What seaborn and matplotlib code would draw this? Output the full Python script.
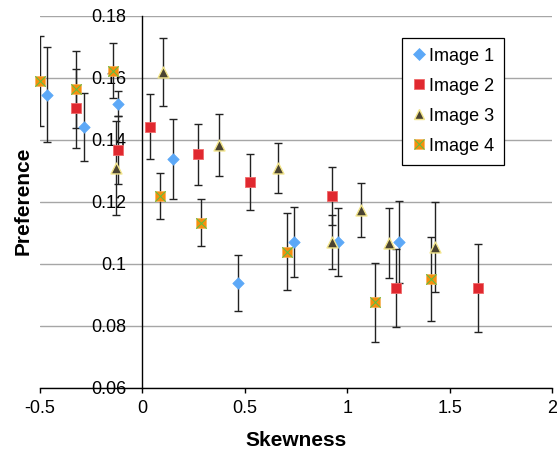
import matplotlib
matplotlib.use('Agg')
import matplotlib.pyplot as plt
import seaborn as sns
import pandas as pd
from matplotlib.lines import Line2D
from matplotlib.legend_handler import HandlerTuple

# ---------------- data ----------------
series_names = ['Image 1', 'Image 2', 'Image 3', 'Image 4']

img1_x = [-0.467, -0.285, -0.119, 0.148, 0.467, 0.740, 0.957, 1.253]
img1_y = [0.1546, 0.1443, 0.1517, 0.1339, 0.0938, 0.1071, 0.1071, 0.1071]
img1_err = [0.0154, 0.0110, 0.0040, 0.0130, 0.0091, 0.0113, 0.0111, 0.0133]

img2_x = [-0.326, -0.119, 0.037, 0.270, 0.525, 0.927, 1.238, 1.640]
img2_y = [0.1502, 0.1368, 0.1443, 0.1354, 0.1265, 0.1220, 0.0923, 0.0923]
img2_err = [0.0128, 0.0109, 0.0105, 0.0098, 0.0091, 0.0094, 0.0125, 0.0142]

img3_x = [-0.130, 0.099, 0.375, 0.664, 0.927, 1.069, 1.204, 1.429]
img3_y = [0.1309, 0.1620, 0.1383, 0.1309, 0.1071, 0.1174, 0.1069, 0.1054]
img3_err = [0.0152, 0.0110, 0.0100, 0.0080, 0.0086, 0.0087, 0.0113, 0.0145]

img4_x = [-0.500, -0.323, -0.142, 0.087, 0.288, 0.708, 1.137, 1.411]
img4_y = [0.1591, 0.1564, 0.1623, 0.1220, 0.1133, 0.1040, 0.0876, 0.0951]
img4_err = [0.0145, 0.0124, 0.0089, 0.0075, 0.0076, 0.0123, 0.0126, 0.0136]

x_ticks = [-0.5, 0, 0.5, 1, 1.5, 2]
x_tick_labels = ['-0.5', '0', '0.5', '1', '1.5', '2']
y_ticks = [0.06, 0.08, 0.10, 0.12, 0.14, 0.16, 0.18]
y_tick_labels = ['0.06', '0.08', '0.1', '0.12', '0.14', '0.16', '0.18']

# ---------------- style ----------------
sns.set_theme(style='white')
plt.rcParams['font.family'] = ['Liberation Sans', 'DejaVu Sans']

fig = plt.figure(figsize=(5.57, 4.51), dpi=100)
ax = fig.add_axes([40 / 557, 63 / 451, 512 / 557, 372 / 451])

series = [
    (img1_x, img1_y, img1_err),
    (img2_x, img2_y, img2_err),
    (img3_x, img3_y, img3_err),
    (img4_x, img4_y, img4_err),
]

# error bars
for xs, ys, es in series:
    ax.errorbar(xs, ys, yerr=es, fmt='none', ecolor='#222222', elinewidth=1.0,
                capsize=2.6, capthick=1.0, zorder=2, clip_on=True)

ORANGE = '#F88E0C'
GREEN = '#5CC043'
styles = [
    dict(marker='D', s=34, color='#5CA8F7', edgecolor='#5CA8F7', linewidth=0.5),
    dict(marker='s', s=62, color='#E0282F', edgecolor='#F06A6A', linewidth=0.6),
    dict(marker='^', s=62, color='#4A4331', edgecolor='#F2E58C', linewidth=1.0),
    dict(marker='s', s=60, color=ORANGE, edgecolor='#F8B45A', linewidth=0.5),
]

for (xs, ys, es), st, name in zip(series, styles, series_names):
    df = pd.DataFrame({'x': xs, 'y': ys})
    sns.scatterplot(data=df, x='x', y='y', ax=ax, legend=False, zorder=3,
                    clip_on=False, **st)

# green cross over the Image 4 squares
df4 = pd.DataFrame({'x': img4_x, 'y': img4_y})
ax.scatter(df4['x'], df4['y'], marker='x', s=56, color=GREEN,
           linewidths=0.75, zorder=4, clip_on=False)

# ---------------- axes ----------------
ax.set_xlim(-0.5, 2)
ax.set_ylim(0.06, 0.18)
ax.set_xticks(x_ticks)
ax.set_xticklabels(x_tick_labels)
ax.set_yticks(y_ticks)
ax.set_yticklabels(y_tick_labels)

ax.spines['left'].set_position(('data', 0))
ax.spines['top'].set_visible(False)
ax.spines['right'].set_visible(False)
for sp in ['left', 'bottom']:
    ax.spines[sp].set_color('black')
    ax.spines[sp].set_linewidth(1.0)
    ax.spines[sp].set_zorder(2.5)

ax.yaxis.grid(True, color='#A6A6A6', linewidth=1.0)
ax.xaxis.grid(False)
ax.set_axisbelow(True)

ax.tick_params(axis='x', which='major', direction='out', length=3.6, width=1,
               color='black', pad=5, labelsize=13, bottom=True)
ax.tick_params(axis='y', which='major', length=0, pad=11.5, labelsize=13)
for lab in ax.get_xticklabels() + ax.get_yticklabels():
    lab.set_color('black')

ax.set_xlabel('Skewness', fontsize=15, fontweight='bold', color='black',
              va='baseline')
ax.xaxis.set_label_coords((296 - 40) / 512, (388 - 446.5) / 372)
ax.set_ylabel('Preference', fontsize=15, fontweight='bold', color='black',
              va='baseline', rotation_mode='anchor')
ax.yaxis.set_label_coords((28.5 - 40) / 512, (388 - 201) / 372)

# ---------------- legend ----------------
h1 = Line2D([], [], linestyle='none', marker='D', markersize=34 ** 0.5,
            markerfacecolor='#5CA8F7', markeredgecolor='#5CA8F7', markeredgewidth=0.5)
h2 = Line2D([], [], linestyle='none', marker='s', markersize=62 ** 0.5,
            markerfacecolor='#E0282F', markeredgecolor='#F06A6A', markeredgewidth=0.6)
h3 = Line2D([], [], linestyle='none', marker='^', markersize=62 ** 0.5,
            markerfacecolor='#4A4331', markeredgecolor='#F2E58C', markeredgewidth=1.0)
h4a = Line2D([], [], linestyle='none', marker='s', markersize=60 ** 0.5,
             markerfacecolor=ORANGE, markeredgecolor='#F8B45A', markeredgewidth=0.5)
h4b = Line2D([], [], linestyle='none', marker='x', markersize=56 ** 0.5,
             color=GREEN, markeredgewidth=0.75)

leg = ax.legend([h1, h2, h3, (h4a, h4b)], series_names,
                handler_map={tuple: HandlerTuple(ndivide=1)},
                loc='upper right', bbox_to_anchor=((504.3 - 40) / 512, (388 - 37.7) / 372),
                borderaxespad=0, fontsize=13, frameon=True, fancybox=False,
                edgecolor='black', facecolor='white', framealpha=1,
                handlelength=0.8, handletextpad=0.15, borderpad=0.55,
                labelspacing=0.72)
leg.get_frame().set_linewidth(0.9)
for t in leg.get_texts():
    t.set_color('black')

fig.savefig('out.png', dpi=100)
